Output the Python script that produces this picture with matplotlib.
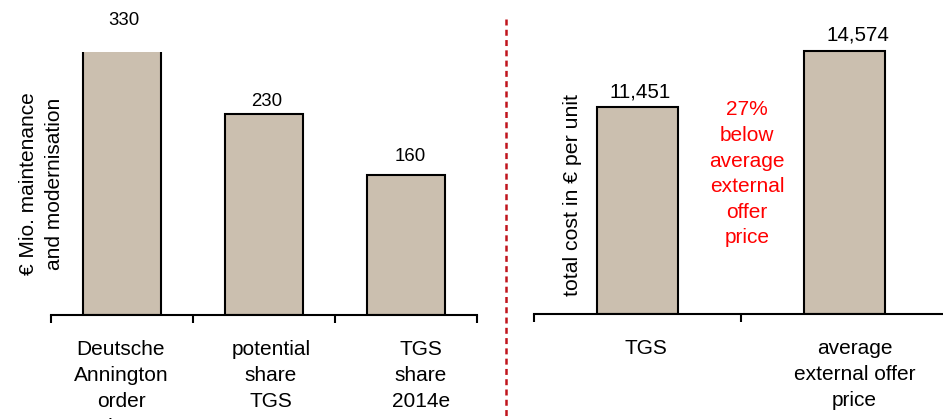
import matplotlib
matplotlib.use("Agg")
import matplotlib.pyplot as plt
from matplotlib.lines import Line2D
from matplotlib.transforms import ScaledTranslation
import numpy as np

plt.rcParams['font.family'] = ['Liberation Sans', 'DejaVu Sans']

# Order volume split (EUR million)
volume_categories = ["Deutsche\nAnnington\norder\nvolume", "potential\nshare\nTGS", "TGS\nshare\n2014e"]
volume_values = [330, 230, 160]
volume_labels = ["330", "230", "160"]

# Cost per unit (EUR)
cost_categories = ["TGS", "average\nexternal offer\nprice"]
cost_values = [11451, 14574]
cost_labels = ["11,451", "14,574"]

note_text = "27%\nbelow\naverage\nexternal\noffer\nprice"

W, H = 943, 419
fig = plt.figure(figsize=(W / 100, H / 100), dpi=100)

BAR_COLOR = "#CBBFAF"
EDGE = "black"


def px_axes(left, top, right, bottom):
    return fig.add_axes([left / W, 1 - bottom / H, (right - left) / W, (bottom - top) / H])


def style_axis(ax, n, label_shift_px):
    for s in ("top", "right", "left"):
        ax.spines[s].set_visible(False)
    ax.spines["bottom"].set_linewidth(1.5)
    ax.set_xlim(-0.5, n - 0.5)
    ax.set_yticks([])
    ax.set_xticks(np.arange(n))
    ax.set_xticks(np.arange(n + 1) - 0.5, minor=True)
    ax.tick_params(axis='x', which='major', length=0, pad=18, labelsize=15)
    ax.tick_params(axis='x', which='minor', length=6, width=1.5, direction='out')
    ax.patch.set_visible(False)
    for tick, dx in zip(ax.xaxis.get_major_ticks(), label_shift_px):
        lab = tick.label1
        lab.set_linespacing(1.47)
        lab.set_transform(lab.get_transform() + ScaledTranslation(dx / 100, 0, fig.dpi_scale_trans))


# Left panel: order volume
ax1 = px_axes(51, 52, 477, 315)
x1 = np.arange(len(volume_values))
ax1.bar(x1, volume_values, width=0.55, color=BAR_COLOR, edgecolor=EDGE, linewidth=1.5)
top1 = 300.6
ax1.set_ylim(0, top1)
ax1.set_xticklabels(volume_categories)
style_axis(ax1, len(volume_values), [-1, 7, 15])

lift1 = [27, 8, 14]
shift1 = [2, 3, 4]
for i, (v, t) in enumerate(zip(volume_values, volume_labels)):
    ax1.annotate(t, (x1[i], min(v, top1)), xytext=(shift1[i], lift1[i]),
                 textcoords='offset pixels', ha='center', va='baseline',
                 fontsize=13.4, annotation_clip=False)

ax1.set_ylabel("€ Mio. maintenance\nand modernisation", fontsize=15, linespacing=1.45)
ax1.yaxis.set_label_coords(0.030, 0.5)

# Right panel: cost per unit
ax2 = px_axes(534, 0, 948, 314)
x2 = np.arange(len(cost_values))
ax2.bar(x2, cost_values, width=0.39, color=BAR_COLOR, edgecolor=EDGE, linewidth=1.5)
ax2.set_ylim(0, 17374)
ax2.set_xticklabels(cost_categories)
style_axis(ax2, len(cost_values), [8, 10])

shift2 = [3, 13]
for i, (v, t) in enumerate(zip(cost_values, cost_labels)):
    ax2.annotate(t, (x2[i], v), xytext=(shift2[i], 10),
                 textcoords='offset pixels', ha='center', va='baseline',
                 fontsize=14.8, annotation_clip=False)

ax2.set_ylabel("total cost in € per unit", fontsize=15.3)
ax2.yaxis.set_label_coords(0.115, 0.379)

ax2.text(0.5145, 0.68, note_text, transform=ax2.transAxes, ha='center', va='top',
         multialignment='center', color='red', fontsize=15, linespacing=1.44)

# Dashed separator between the panels
lw = 1.8
fig.add_artist(Line2D([506 / W, 506 / W], [1 - 19 / H, 0], transform=fig.transFigure,
                      color="#C0141C", linewidth=lw, linestyle=(0, (4.3 / lw, 3.1 / lw))))

fig.savefig("out.png", dpi=100)
